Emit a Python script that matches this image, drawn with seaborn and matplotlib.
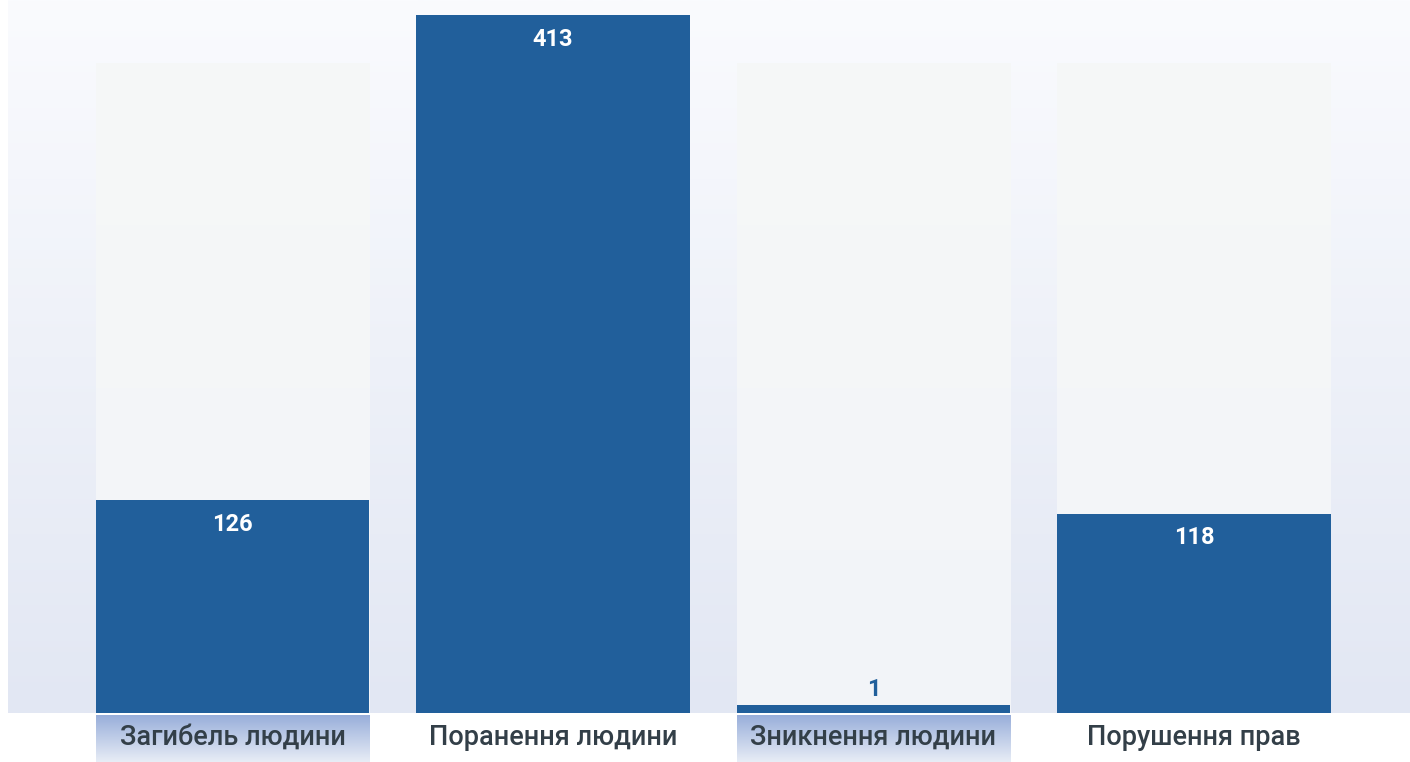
import numpy as np
import matplotlib
matplotlib.use("Agg")
import matplotlib.pyplot as plt
import seaborn as sns
from matplotlib.colors import LinearSegmentedColormap

# ── Дані ─────────────────────────────────────────────
categories = ["Загибель людини", "Поранення людини", "Зникнення людини", "Порушення прав"]
values = [126, 413, 1, 118]
boxed = [True, False, True, False]   # підписи з фоновою плашкою
track_value = 385                    # висота світлої "доріжки" за стовпцями
y_max = 422
min_bar = 4.7                        # мінімальна видима висота

# ── Кольори ──────────────────────────────────────────
BAR = "#215F9B"
TEXT = "#333F48"
BG_TOP, BG_BOT = "#FAFBFE", "#E2E7F3"
TRACK_TOP, TRACK_BOT = "#F6F8F7", "#F2F4F9"
BOX_TOP, BOX_BOT = "#98AEDA", "#E8EDF6"

sns.set_theme(style="white")
plt.rcParams["font.family"] = ["Roboto", "DejaVu Sans"]

W, H = 1410, 762
fig = plt.figure(figsize=(W / 100, H / 100), dpi=100)
fig.patch.set_facecolor("white")
ax = fig.add_axes([8 / W, 49 / H, 1402 / W, 713 / H])
lax = fig.add_axes([8 / W, 0, 1402 / W, 47 / H])

xlim = (-0.7005, 3.674)


def vgrad(top, bot):
    return LinearSegmentedColormap.from_list("g", [bot, top])


grad = np.linspace(0, 1, 256).reshape(-1, 1)

# доріжки
sns.barplot(x=categories, y=[track_value] * len(categories), color=TRACK_BOT,
            width=0.852, saturation=1, linewidth=0, ax=ax, zorder=1)
tracks = list(ax.patches)

# основні стовпці
shown = np.maximum(values, min_bar)
sns.barplot(x=categories, y=shown, color=BAR, width=0.852, saturation=1,
            linewidth=0, ax=ax, zorder=3)

# градієнти
ax.imshow(grad, extent=[xlim[0], xlim[1], 0, y_max], origin="lower",
          aspect="auto", cmap=vgrad(BG_TOP, BG_BOT), zorder=0)
for p in tracks:
    x0, y0, w, h = p.get_x(), p.get_y(), p.get_width(), p.get_height()
    im = ax.imshow(grad, extent=[x0, x0 + w, y0, y0 + h], origin="lower",
                   aspect="auto", cmap=vgrad(TRACK_TOP, TRACK_BOT), zorder=2)
    im.set_clip_path(p)

ax.set_xlim(*xlim)
ax.set_ylim(0, y_max)
ax.set_axis_off()

# підписи значень
for i, (v, h) in enumerate(zip(values, shown)):
    if v > 30:
        ax.annotate(str(v), (i, h), xytext=(0, -17.5), textcoords="offset points",
                    ha="center", va="center", color="white", fontsize=17,
                    fontweight="bold", zorder=4)
    else:
        ax.annotate(str(v), (i, h), xytext=(0, 11), textcoords="offset points",
                    ha="center", va="center", color=BAR, fontsize=17,
                    fontweight="bold", zorder=4)

# підписи категорій
lax.set_xlim(*xlim)
lax.set_ylim(0, 1)
for i, (name, b) in enumerate(zip(categories, boxed)):
    if b:
        lax.imshow(grad, extent=[i - 0.426, i + 0.426, 0, 1], origin="lower",
                   aspect="auto", cmap=vgrad(BOX_TOP, BOX_BOT), zorder=0)
    lax.text(i, 0.53, name, ha="center", va="center", color=TEXT,
             fontsize=19.5, fontweight="medium", zorder=2)
lax.set_xlim(*xlim)
lax.set_ylim(0, 1)
lax.set_axis_off()

fig.savefig("out.png", dpi=100, facecolor="white")
